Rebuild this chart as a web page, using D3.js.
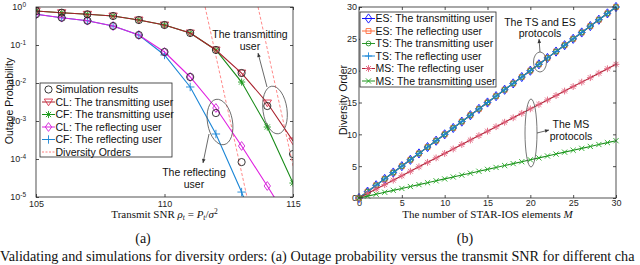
<!DOCTYPE html>
<html>
<head>
<meta charset="utf-8">
<script src="https://cdn.jsdelivr.net/npm/d3@7"></script>
<style>
body { margin: 0; background: #fff; }
svg { display: block; font-family: "Liberation Sans", Arial, sans-serif; }
</style>
</head>
<body>
<svg id="fig" width="640" height="265"></svg>
<script>
// ---- (a) outage probability vs transmit SNR ----
var snr = [105, 106, 107, 108, 109, 110, 111, 112, 113, 114, 115];
var simTrans = [0.785, 0.708, 0.643, 0.58, 0.455, 0.336, 0.207, 0.074, 0.0183, 2.48e-3, 1.35e-4];
var simRefl = [0.643, 0.523, 0.436, 0.316, 0.183, 0.0655, 0.0144, 1.62e-3, 8.3e-5, null, null];
var clTrans = [0.785, 0.708, 0.643, 0.58, 0.455, 0.336, 0.207, 0.074, 0.0183, 2.98e-3, 2.98e-4];
var cfTrans = [0.785, 0.708, 0.643, 0.58, 0.455, 0.336, 0.207, 0.074, 0.0106, 6.95e-4, 2.33e-5];
var clRefl = [0.643, 0.523, 0.436, 0.316, 0.183, 0.0655, 0.0144, 0.0022, 2.2e-4, 1.95e-5, 1.6e-6];
var cfRefl = [0.643, 0.523, 0.436, 0.316, 0.183, 0.0546, 0.00785, 4.55e-4, 1.35e-5, 2e-7, 3e-9];
// asymptotic diversity-order lines: [snr, probability] end points
var divRefl = [[111.58, 1], [113.21, 1e-5]];
var divTrans = [[113.64, 1], [115.27, 1e-5]];
var snrTicks = [105, 110, 115];
var probTicks = [1, 1e-1, 1e-2, 1e-3, 1e-4, 1e-5];

// ---- (b) diversity order vs number of elements ----
var elements = [0,1,2,3,4,5,6,7,8,9,10,11,12,13,14,15,16,17,18,19,20,21,22,23,24,25,26,27,28,29,30];
var orderESTS = [0,1,2,3,4,5,6,7,8,9,10,11,12,13,14,15,16,17,18,19,20,21,22,23,24,25,26,27,28,29,30];
var orderMSr = [0,0.7,1.4,2.1,2.8,3.5,4.2,4.9,5.6,6.3,7,7.7,8.4,9.1,9.8,10.5,11.2,11.9,12.6,13.3,14,14.7,15.4,16.1,16.8,17.5,18.2,18.9,19.6,20.3,21];
var orderMSt = [0,0.3,0.6,0.9,1.2,1.5,1.8,2.1,2.4,2.7,3,3.3,3.6,3.9,4.2,4.5,4.8,5.1,5.4,5.7,6,6.3,6.6,6.9,7.2,7.5,7.8,8.1,8.4,8.7,9];
var elemTicks = [0, 5, 10, 15, 20, 25, 30];
var orderTicks = [0, 5, 10, 15, 20, 25, 30];

var svg = d3.select("#fig");
var axisColor = "#262626";

function marker(type, r) {
  var h = r * 0.72;
  switch (type) {
    case "circle": return "M" + r + ",0A" + r + "," + r + " 0 1,1 " + (-r) + ",0A" + r + "," + r + " 0 1,1 " + r + ",0Z";
    case "tri": return "M" + (-r) + "," + (-r * 0.7) + "L" + r + "," + (-r * 0.7) + "L0," + (r * 0.9) + "Z";
    case "diamond": return "M0," + (-r) + "L" + h + ",0L0," + r + "L" + (-h) + ",0Z";
    case "square": return "M" + (-h) + "," + (-h) + "h" + 2 * h + "v" + 2 * h + "h" + (-2 * h) + "Z";
    case "plus": return "M" + (-r) + ",0H" + r + "M0," + (-r) + "V" + r;
    case "x": return "M" + (-h) + "," + (-h) + "L" + h + "," + h + "M" + (-h) + "," + h + "L" + h + "," + (-h);
    case "star": return "M" + (-r) + ",0H" + r + "M0," + (-r) + "V" + r +
      "M" + (-h) + "," + (-h) + "L" + h + "," + h + "M" + (-h) + "," + h + "L" + h + "," + (-h);
  }
}

function frame(g, x, y, w, h) {
  g.append("rect").attr("x", x).attr("y", y).attr("width", w).attr("height", h)
    .attr("fill", "none").attr("stroke", axisColor).attr("stroke-width", 0.8);
}

function styleAxis(g) {
  g.select(".domain").remove();
  g.selectAll(".tick line").attr("stroke", axisColor).attr("stroke-width", 0.8);
  g.selectAll(".tick text").attr("fill", axisColor);
}

function drawSeries(g, xs, ys, xScale, yScale, s, yDomain) {
  var pts = xs.map(function (x, i) { return [x, ys[i]]; })
    .filter(function (p) { return p[1] != null; });
  if (s.line) {
    g.append("path").datum(pts)
      .attr("fill", "none").attr("stroke", s.line).attr("stroke-width", s.lw || 1.1)
      .attr("d", d3.line().x(function (p) { return xScale(p[0]); }).y(function (p) { return yScale(p[1]); }));
  }
  g.selectAll(null).data(pts.filter(function (p) { return p[1] >= yDomain[0] && p[1] <= yDomain[1]; }))
    .enter().append("path")
    .attr("transform", function (p) { return "translate(" + xScale(p[0]) + "," + yScale(p[1]) + ")"; })
    .attr("d", marker(s.marker, s.size))
    .attr("fill", s.fill || "none").attr("stroke", s.stroke).attr("stroke-width", s.mw || 0.9);
}

function legend(g, x, y, w, h, items, dy, fontSize) {
  g.append("rect").attr("x", x).attr("y", y).attr("width", w).attr("height", h)
    .attr("fill", "#fff").attr("stroke", axisColor).attr("stroke-width", 0.8);
  items.forEach(function (s, i) {
    var cy = y + 6.5 + i * dy;
    if (s.line) {
      g.append("line").attr("x1", x + 2).attr("x2", x + 15).attr("y1", cy).attr("y2", cy)
        .attr("stroke", s.line).attr("stroke-width", 1)
        .attr("stroke-dasharray", s.dash || null);
    }
    if (s.marker) {
      g.append("path").attr("transform", "translate(" + (x + 8.5) + "," + cy + ")")
        .attr("d", marker(s.marker, s.size)).attr("fill", s.fill || "none")
        .attr("stroke", s.stroke).attr("stroke-width", s.mw || 0.9);
    }
    g.append("text").attr("x", x + 15.5).attr("y", cy).attr("dy", "0.35em")
      .attr("font-size", fontSize).attr("fill", "#111").text(s.name);
  });
}

function ellipse(g, cx, cy, rx, ry, rot) {
  g.append("ellipse").attr("cx", cx).attr("cy", cy).attr("rx", rx).attr("ry", ry)
    .attr("transform", rot ? "rotate(" + rot + "," + cx + "," + cy + ")" : null)
    .attr("fill", "none").attr("stroke", "#555").attr("stroke-width", 0.8);
}

function arrow(g, x1, y1, x2, y2) {
  g.append("line").attr("x1", x1).attr("y1", y1).attr("x2", x2).attr("y2", y2)
    .attr("stroke", "#444").attr("stroke-width", 0.8);
  var a = Math.atan2(y2 - y1, x2 - x1), L = 4, W = 1.8;
  var bx = x2 - L * Math.cos(a), by = y2 - L * Math.sin(a);
  g.append("path")
    .attr("d", "M" + x2 + "," + y2 + "L" + (bx + W * Math.sin(a)) + "," + (by - W * Math.cos(a)) +
      "L" + (bx - W * Math.sin(a)) + "," + (by + W * Math.cos(a)) + "Z")
    .attr("fill", "#333");
}

function label(g, x, y, lines, size, lh) {
  lines.forEach(function (t, i) {
    g.append("text").attr("x", x).attr("y", y + i * lh).attr("dy", "0.35em")
      .attr("text-anchor", "middle").attr("font-size", size).attr("fill", "#111").text(t);
  });
}

// ================= panel (a) =================
var A = { l: 36, r: 293, t: 7, b: 197 };
var xa = d3.scaleLinear().domain([105, 115]).range([A.l, A.r]);
var ya = d3.scaleLog().domain([1e-5, 1]).range([A.b, A.t]);
var ga = svg.append("g");

svg.append("defs").append("clipPath").attr("id", "clipA")
  .append("rect").attr("x", A.l).attr("y", A.t).attr("width", A.r - A.l).attr("height", A.b - A.t);

ga.append("g").attr("transform", "translate(0," + A.b + ")")
  .call(d3.axisBottom(xa).tickValues(snrTicks).tickSizeInner(-3).tickSizeOuter(0).tickPadding(4))
  .call(styleAxis).selectAll("text").attr("font-size", 9);
ga.append("g").attr("transform", "translate(0," + A.t + ")")
  .call(d3.axisTop(xa).tickValues(snrTicks).tickSizeInner(-3).tickSizeOuter(0).tickFormat(""))
  .call(styleAxis);
var yAxA = ga.append("g").attr("transform", "translate(" + A.l + ",0)")
  .call(d3.axisLeft(ya).tickValues(probTicks).tickSizeInner(-3).tickSizeOuter(0).tickPadding(10))
  .call(styleAxis);
yAxA.selectAll(".tick text").attr("font-size", 9).each(function (d) {
  var e = Math.round(Math.log10(d));
  var t = d3.select(this).text("");
  t.append("tspan").text("10");
  t.append("tspan").attr("dy", "-0.55em").attr("font-size", 6.5).text(e);
});
ga.append("g").attr("transform", "translate(" + A.r + ",0)")
  .call(d3.axisRight(ya).tickValues(probTicks).tickSizeInner(-3).tickSizeOuter(0).tickFormat(""))
  .call(styleAxis);

var plotA = ga.append("g").attr("clip-path", "url(#clipA)");
var sA = {
  sim: { name: "Simulation results", marker: "circle", size: 3.6, stroke: "#222" },
  clT: { name: "CL: The transmitting user", line: "#a8202c", marker: "tri", size: 4.2, stroke: "#d8304a" },
  cfT: { name: "CF: The transmitting user", line: "#178a17", marker: "star", size: 3.6, stroke: "#1a9a1a" },
  clR: { name: "CL: The reflecting user", line: "#e020e0", marker: "diamond", size: 4.4, stroke: "#d020d8" },
  cfR: { name: "CF: The reflecting user", line: "#1b86d6", marker: "plus", size: 4.2, stroke: "#1b86d6" },
  div: { name: "Diversity Orders", line: "#ff8080", dash: "2,1.5" }
};
[divRefl, divTrans].forEach(function (d) {
  plotA.append("path").datum(d).attr("fill", "none").attr("stroke", "#ff8a8a")
    .attr("stroke-width", 1).attr("stroke-dasharray", "3,2")
    .attr("d", d3.line().x(function (p) { return xa(p[0]); }).y(function (p) { return ya(p[1]); }));
});
var dA = [1e-5, 1.0001];
drawSeries(plotA, snr, cfRefl, xa, ya, sA.cfR, dA);
drawSeries(plotA, snr, clRefl, xa, ya, sA.clR, dA);
drawSeries(plotA, snr, cfTrans, xa, ya, sA.cfT, dA);
drawSeries(plotA, snr, clTrans, xa, ya, sA.clT, dA);
drawSeries(plotA, snr, simTrans, xa, ya, sA.sim, dA);
drawSeries(plotA, snr, simRefl, xa, ya, sA.sim, dA);
frame(ga, A.l, A.t, A.r - A.l, A.b - A.t);

legend(ga, 40, 83, 132, 74, [sA.sim, sA.clT, sA.cfT, sA.clR, sA.cfR, sA.div], 12.5, 10.5);

ellipse(ga, 275, 110, 12, 24, -8);
ellipse(ga, 220, 122, 12.5, 23, -10);
arrow(ga, 267, 87, 258, 53);
arrow(ga, 209, 134, 203, 163);
label(ga, 250, 34, ["The transmitting", "user"], 10.5, 12);
label(ga, 194, 172, ["The reflecting", "user"], 10.5, 12);

// axis titles (a)
var tA = ga.append("text").attr("x", (A.l + A.r) / 2).attr("y", 218).attr("text-anchor", "middle")
  .attr("font-family", "'Liberation Serif', 'Times New Roman', serif").attr("font-size", 11).attr("fill", "#111");
tA.append("tspan").text("Transmit SNR ");
tA.append("tspan").attr("font-style", "italic").text("ρ");
tA.append("tspan").attr("font-size", 7.5).attr("dy", 2).attr("font-style", "italic").text("t");
tA.append("tspan").attr("dy", -2).text(" = ");
tA.append("tspan").attr("font-style", "italic").text("P");
tA.append("tspan").attr("font-size", 7.5).attr("dy", 2).attr("font-style", "italic").text("t");
tA.append("tspan").attr("dy", -2).text("/");
tA.append("tspan").attr("font-style", "italic").text("σ");
tA.append("tspan").attr("font-size", 7.5).attr("dy", -4).text("2");
ga.append("text").attr("transform", "translate(9,101) rotate(-90)").attr("text-anchor", "middle")
  .attr("dy", "0.35em").attr("font-size", 10.5).attr("fill", "#111").text("Outage Probability");

// ================= panel (b) =================
var B = { l: 359, r: 616, t: 7, b: 198 };
var xb = d3.scaleLinear().domain([0, 30]).range([B.l, B.r]);
var yb = d3.scaleLinear().domain([0, 30]).range([B.b, B.t]);
var gb = svg.append("g");

gb.append("g").attr("transform", "translate(0," + B.b + ")")
  .call(d3.axisBottom(xb).tickValues(elemTicks).tickSizeInner(-3).tickSizeOuter(0).tickPadding(2))
  .call(styleAxis).selectAll("text").attr("font-size", 9);
gb.append("g").attr("transform", "translate(0," + B.t + ")")
  .call(d3.axisTop(xb).tickValues(elemTicks).tickSizeInner(-3).tickSizeOuter(0).tickFormat(""))
  .call(styleAxis);
gb.append("g").attr("transform", "translate(" + B.l + ",0)")
  .call(d3.axisLeft(yb).tickValues(orderTicks).tickSizeInner(-3).tickSizeOuter(0).tickPadding(2))
  .call(styleAxis).selectAll("text").attr("font-size", 9);
gb.append("g").attr("transform", "translate(" + B.r + ",0)")
  .call(d3.axisRight(yb).tickValues(orderTicks).tickSizeInner(-3).tickSizeOuter(0).tickFormat(""))
  .call(styleAxis);

var sB = {
  esT: { name: "ES: The transmitting user", line: "#1010ff", marker: "diamond", size: 4.6, stroke: "#1010ff" },
  esR: { name: "ES: The reflecting user", line: "#ff6a3a", marker: "square", size: 3.4, stroke: "#ff6a3a" },
  tsT: { name: "TS: The transmitting user", line: "#2a962a", marker: "circle", size: 2.4, stroke: "#2a962a" },
  tsR: { name: "TS: The reflecting user", line: "#1b86d6", marker: "plus", size: 3.6, stroke: "#1b86d6" },
  msR: { name: "MS: The reflecting user", line: "#b02035", marker: "star", size: 3.4, stroke: "#e0607a" },
  msT: { name: "MS: The transmitting user", line: "#1d8f1d", marker: "x", size: 3.6, stroke: "#22a822" }
};
var dB = [0, 30];
drawSeries(gb, elements, orderESTS, xb, yb, sB.esT, dB);
drawSeries(gb, elements, orderESTS, xb, yb, sB.esR, dB);
drawSeries(gb, elements, orderESTS, xb, yb, sB.tsT, dB);
drawSeries(gb, elements, orderESTS, xb, yb, sB.tsR, dB);
drawSeries(gb, elements, orderMSr, xb, yb, sB.msR, dB);
drawSeries(gb, elements, orderMSt, xb, yb, sB.msT, dB);
frame(gb, B.l, B.t, B.r - B.l, B.b - B.t);

legend(gb, 360, 12, 136, 75, [sB.esT, sB.esR, sB.tsT, sB.tsR, sB.msR, sB.msT], 12.5, 10.5);

ellipse(gb, 540, 62, 6.5, 10, 0);
ellipse(gb, 531, 133, 6, 34, 0);
arrow(gb, 540, 52, 539, 39);
arrow(gb, 537, 133, 549, 130);
label(gb, 540, 22, ["The TS and ES", "protocols"], 10.5, 11.5);
label(gb, 571, 124, ["The MS", "protocols"], 10.5, 12);

var tB = gb.append("text").attr("x", (B.l + B.r) / 2).attr("y", 218).attr("text-anchor", "middle")
  .attr("font-family", "'Liberation Serif', 'Times New Roman', serif").attr("font-size", 11).attr("fill", "#111");
tB.append("tspan").text("The number of STAR-IOS elements ");
tB.append("tspan").attr("font-style", "italic").text("M");
gb.append("text").attr("transform", "translate(343,100) rotate(-90)").attr("text-anchor", "middle")
  .attr("dy", "0.35em").attr("font-size", 10.5).attr("fill", "#111").text("Diversity Order");

// ================= captions =================
var serif = "'Liberation Serif', 'Times New Roman', serif";
svg.append("text").attr("x", 143).attr("y", 243).attr("text-anchor", "middle")
  .attr("font-family", serif).attr("font-size", 14).attr("fill", "#111").text("(a)");
svg.append("text").attr("x", 465).attr("y", 243).attr("text-anchor", "middle")
  .attr("font-family", serif).attr("font-size", 14).attr("fill", "#111").text("(b)");
var cap = svg.append("text").attr("x", 0).attr("y", 261)
  .attr("font-family", serif).attr("font-size", 14.2).attr("fill", "#111")
  .text("Validating and simulations for diversity orders: (a) Outage probability versus the transmit SNR for different cha");
// keep the (cropped) caption line inside the frame width
var capW = cap.node().getComputedTextLength();
if (capW > 639) cap.attr("font-size", 14.2 * 639 / capW);
</script>
</body>
</html>
